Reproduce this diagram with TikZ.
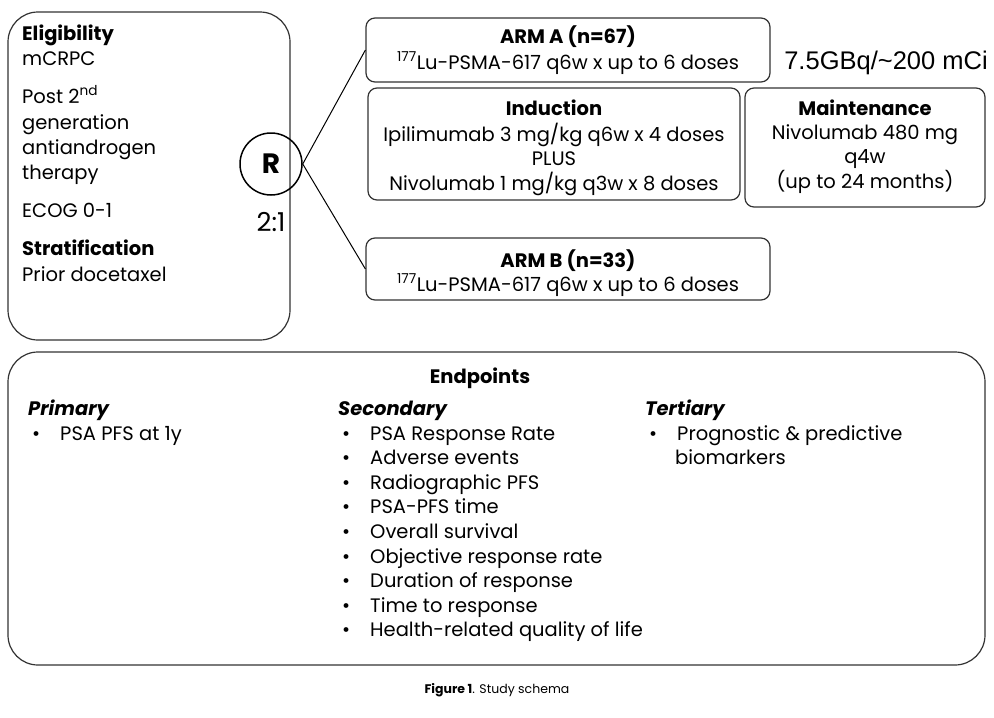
\documentclass[tikz,border=0pt]{standalone}
\usepackage{fontspec}
\setmainfont{Poppins}
\newfontfamily\arial{Liberation Sans}
\begin{document}
\begin{tikzpicture}[x=1pt,y=-1pt,
  bx/.style={draw=black!80,line width=1.2pt,rounded corners=9pt},
  big/.style={draw=black!80,line width=1.2pt,rounded corners=30pt},
  t/.style={font=\fontsize{19.5}{24.5}\selectfont,inner sep=0pt,text height=14pt,text depth=4pt},
  tl/.style={t,anchor=west},
  hb/.style={font=\fontsize{19.5}{22}\selectfont\bfseries,inner sep=0pt,text height=14pt,text depth=4pt},
  it/.style={tl,font=\fontsize{19.5}{22}\selectfont\bfseries\itshape}]
\useasboundingbox (0,0) rectangle (994,718);
\fill[white] (0,0) rectangle (994,718);
% left
\draw[big] (8,12) rectangle (290,340);
\node[hb,anchor=west] (elig) at (22,35) {Eligibility};
\node[tl] (m) at (22,60) {mCRPC};
\node[tl] (p) at (22,98) {Post 2\textsuperscript{nd}};
\node[tl] (g) at (22,124) {generation};
\node[tl] (a) at (22,149) {antiandrogen};
\node[tl] (th) at (22,174) {therapy};
\node[tl] (e) at (22,212) {ECOG 0-1};
\node[hb,anchor=west] (s) at (22,250) {Stratification};
\node[tl] (pd) at (22,276) {Prior docetaxel};
% R
\node[draw=black,line width=1.5pt,circle,minimum size=62pt,inner sep=0pt,font=\fontsize{28}{30}\selectfont\bfseries] (R) at (271,164) {R};
\node[inner sep=0pt,font=\fontsize{26}{28}\selectfont] (ratio) at (271,222) {2:1};
% arms
\node[bx,minimum width=404pt,minimum height=64pt] (A) at (568,50) {};
\node[hb] (At) at (568,38) {ARM A (n=67)};
\node[t] (Al) at (568,64) {\textsuperscript{177}Lu-PSMA-617 q6w x up to 6 doses};
\node[inner sep=0pt,font=\arial\fontsize{25.5}{28}\selectfont] (dose) at (886,63) {7.5GBq/\textasciitilde200 mCi};
\node[bx,minimum width=372pt,minimum height=112pt] (I) at (554,144) {};
\node[hb] (It) at (554,110) {Induction};
\node[t,align=center,text height=,text depth=] (Il) at (554,159) {Ipilimumab 3 mg/kg q6w x 4 doses\\PLUS\\Nivolumab 1 mg/kg q3w x 8 doses};
\node[bx,minimum width=240pt,minimum height=119pt] (M) at (865,147.5) {};
\node[hb] (Mt) at (865,110) {Maintenance};
\node[t,align=center,text height=,text depth=] (Ml) at (865,159) {Nivolumab 480 mg\\q4w\\(up to 24 months)};
\node[bx,minimum width=404pt,minimum height=62pt] (B) at (568,269) {};
\node[hb] (Bt) at (568,262) {ARM B (n=33)};
\node[t] (Bl) at (568,286) {\textsuperscript{177}Lu-PSMA-617 q6w x up to 6 doses};
\draw[line width=1pt] (R.east) -- (A.west);
\draw[line width=1pt] (R.east) -- (B.west);
% endpoints
\draw[big] (8,352) rectangle (985,665);
\node[hb] (ep) at (480,378) {Endpoints};
\node[it] (pr) at (28,410) {Primary};
\node[tl] (pr1) at (32,435) {•\hspace{20pt}PSA PFS at 1y};
\node[it] (se) at (338,410) {Secondary};
\foreach \i/\s in {0/PSA Response Rate,1/Adverse events,2/Radiographic PFS,3/PSA-PFS time,4/Overall survival,5/Objective response rate,6/Duration of response,7/Time to response,8/Health-related quality of life}
  \node[tl] (s\i) at (342,435+24.6*\i) {•\hspace{20pt}\s};
\node[it] (te) at (645,410) {Tertiary};
\node[tl] (te1) at (649,435) {•\hspace{20pt}Prognostic \& predictive};
\node[tl] (te2) at (675,459) {biomarkers};
\node[inner sep=0pt,font=\fontsize{12.5}{14}\selectfont] (cap) at (497,690) {\textbf{Figure 1}. Study schema};
\end{tikzpicture}
\end{document}
